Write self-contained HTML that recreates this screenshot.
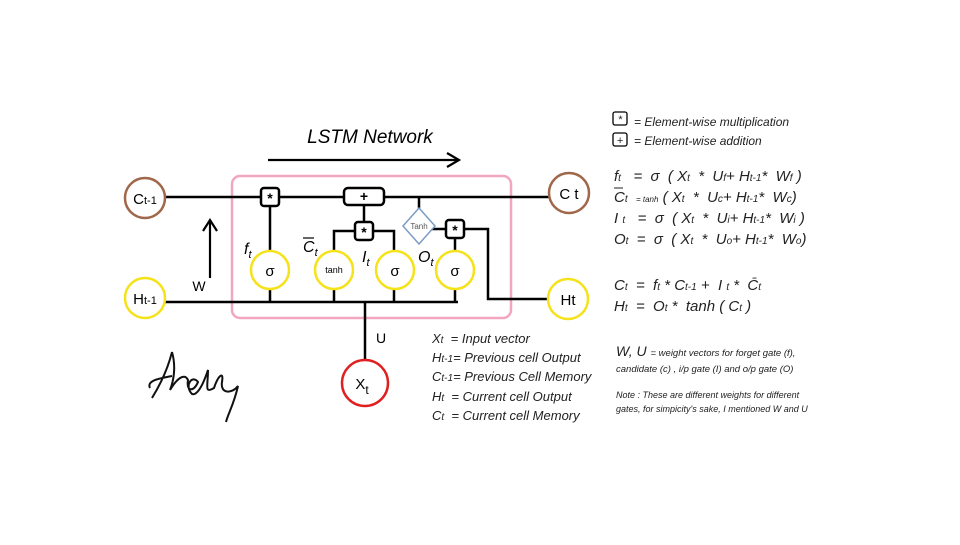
<!DOCTYPE html><html><head><style>body{margin:0;background:#fff}svg text{font-family:"Liberation Sans",sans-serif;white-space:pre}</style></head><body>
<svg width="960" height="540" viewBox="0 0 960 540" xmlns="http://www.w3.org/2000/svg" xml:space="preserve">
<rect width="960" height="540" fill="#fff"/>
<text x="370" y="143" font-size="19" font-style="italic" text-anchor="middle">LSTM Network</text>
<g stroke="#000" stroke-width="2.2" fill="none">
<line x1="268" y1="160" x2="458" y2="160"/><polyline points="447,153 459,160 447,167"/>
<line x1="210" y1="278" x2="210" y2="221"/><polyline points="203,231 210,220 217,231"/>
</g>
<rect x="232" y="176" width="279" height="142" rx="8" fill="none" stroke="#f2a6c0" stroke-width="2.5"/>
<g stroke="#000" stroke-width="2.5" fill="none">
<line x1="165" y1="197" x2="549" y2="197"/>
<line x1="270" y1="197" x2="270" y2="251"/>
<line x1="364" y1="197" x2="364" y2="231"/>
<polyline points="334,251 334,231 394,231 394,251"/>
<line x1="419" y1="197" x2="419" y2="226"/>
<polyline points="419,229 488,229 488,299 548,299"/>
<line x1="455" y1="229" x2="455" y2="251"/>
<line x1="165" y1="302" x2="458" y2="302"/>
<line x1="270" y1="289" x2="270" y2="302"/><line x1="334" y1="289" x2="334" y2="302"/>
<line x1="394" y1="289" x2="394" y2="302"/><line x1="455" y1="289" x2="455" y2="302"/>
<line x1="365" y1="302" x2="365" y2="360"/>
</g>
<g stroke="#000" stroke-width="2.5" fill="#fff">
<rect x="261" y="188" width="18" height="18" rx="3"/>
<rect x="344" y="188" width="40" height="17" rx="4"/>
<rect x="355" y="222" width="18" height="18" rx="3"/>
<rect x="446" y="220" width="18" height="18" rx="3"/>
</g>
<polygon points="419,208 435,226 419,244 403,226" fill="#fff" stroke="#7a9cc6" stroke-width="1.5"/>
<text x="419" y="229" font-size="8" text-anchor="middle" fill="#555">Tanh</text>
<g font-size="14" text-anchor="middle" font-weight="bold">
<text x="270" y="203">*</text><text x="364" y="201">+</text><text x="364" y="237">*</text><text x="455" y="235">*</text>
</g>
<g stroke="#f5e21a" stroke-width="2.5" fill="#fff">
<circle cx="270" cy="270" r="19"/><circle cx="334" cy="270" r="19"/><circle cx="395" cy="270" r="19"/><circle cx="455" cy="270" r="19"/>
<circle cx="145" cy="298" r="20"/><circle cx="568" cy="299" r="20"/>
</g>
<g stroke="#a0674a" stroke-width="2.5" fill="#fff"><circle cx="145" cy="198" r="20"/><circle cx="569" cy="193" r="20"/></g>
<circle cx="365" cy="383" r="23" fill="#fff" stroke="#e02020" stroke-width="2.5"/>
<g font-size="15" text-anchor="middle">
<text x="270" y="276">σ</text><text x="395" y="276">σ</text><text x="455" y="276">σ</text>
<text x="334" y="273" font-size="9">tanh</text>
<text x="145" y="204">C<tspan font-size="11">t-1</tspan></text>
<text x="569" y="199">C t</text>
<text x="145" y="304">H<tspan font-size="11">t-1</tspan></text>
<text x="568" y="305">Ht</text>
<text x="362" y="389">X<tspan font-size="12" dy="5">t</tspan></text>
<text x="199" y="291" font-size="14">W</text>
<text x="381" y="343" font-size="14">U</text>
</g>
<g font-size="16" font-style="italic">
<text x="244" y="254">f<tspan font-size="11" dy="4">t</tspan></text>
<text x="303" y="252">C<tspan font-size="11" dy="4">t</tspan></text>
<line x1="303" y1="238" x2="314" y2="238" stroke="#000" stroke-width="1.2"/>
<text x="362" y="262">I<tspan font-size="11" dy="4">t</tspan></text>
<text x="418" y="262">O<tspan font-size="11" dy="4">t</tspan></text>
</g>
<g font-size="13" font-style="italic" fill="#222">
<text x="432" y="343">X<tspan font-size="10">t</tspan>  = Input vector</text>
<text x="432" y="362">H<tspan font-size="10">t-1</tspan>= Previous cell Output</text>
<text x="432" y="381">C<tspan font-size="10">t-1</tspan>= Previous Cell Memory</text>
<text x="432" y="401">H<tspan font-size="10">t</tspan>  = Current cell Output</text>
<text x="432" y="420">C<tspan font-size="10">t</tspan>  = Current cell Memory</text>
</g>
<path d="M172,352 C168,368 160,385 152,398 M172,352 C176,366 174,380 170,390 C176,380 184,372 188,380 C186,392 194,392 198,382 C192,374 184,386 192,394 C198,396 204,382 208,370 C208,386 204,394 214,388 C218,376 224,370 222,382 C220,394 232,394 238,386 C234,404 228,414 226,422 M150,388 C146,380 162,378 172,376" fill="none" stroke="#111" stroke-width="2"/>
<g stroke="#000" stroke-width="1.3" fill="#fff">
<rect x="613" y="112" width="14" height="13" rx="2"/><rect x="613" y="133" width="14" height="13" rx="2"/>
</g>
<g font-size="12" font-style="italic" fill="#222">
<text x="620" y="123" text-anchor="middle" font-size="11">*</text><text x="620" y="144" text-anchor="middle" font-size="11">+</text>
<text x="634" y="126">= Element-wise multiplication</text>
<text x="634" y="145">= Element-wise addition</text>
</g>
<g font-size="15" font-style="italic" fill="#222">
<text x="614" y="181">f<tspan font-size="10">t</tspan>   =  σ  ( X<tspan font-size="10">t</tspan>  *  U<tspan font-size="10">f</tspan>+ H<tspan font-size="10">t-1</tspan>*  W<tspan font-size="10">f</tspan> )</text>
<text x="614" y="202">C<tspan font-size="10">t</tspan>  <tspan font-size="8">= tanh</tspan> ( X<tspan font-size="10">t</tspan>  *  U<tspan font-size="10">c</tspan>+ H<tspan font-size="10">t-1</tspan>*  W<tspan font-size="10">c</tspan>)</text>
<text x="614" y="223">I <tspan font-size="10">t</tspan>   =  σ  ( X<tspan font-size="10">t</tspan>  *  U<tspan font-size="10">i</tspan>+ H<tspan font-size="10">t-1</tspan>*  W<tspan font-size="10">i</tspan> )</text>
<text x="614" y="244">O<tspan font-size="10">t</tspan>  =  σ  ( X<tspan font-size="10">t</tspan>  *  U<tspan font-size="10">o</tspan>+ H<tspan font-size="10">t-1</tspan>*  W<tspan font-size="10">o</tspan>)</text>
<text x="614" y="290">C<tspan font-size="10">t</tspan>  =  f<tspan font-size="10">t</tspan> * C<tspan font-size="10">t-1</tspan> +  I <tspan font-size="10">t</tspan> *  C̄<tspan font-size="10">t</tspan></text>
<text x="614" y="311">H<tspan font-size="10">t</tspan>  =  O<tspan font-size="10">t</tspan> *  tanh ( C<tspan font-size="10">t</tspan> )</text>
</g>
<line x1="614" y1="188" x2="623" y2="188" stroke="#222" stroke-width="1"/>
<g font-style="italic" fill="#222">
<text x="616" y="356" font-size="14">W, U <tspan font-size="9.5">= weight vectors for forget gate (f),</tspan></text>
<text x="616" y="372" font-size="9.5">candidate (c) , i/p gate (I) and o/p gate (O)</text>
<text x="616" y="398" font-size="9">Note : These are different weights for different</text>
<text x="616" y="412" font-size="9">gates, for simpicity's sake, I mentioned W and U</text>
</g>
</svg>
</body></html>
